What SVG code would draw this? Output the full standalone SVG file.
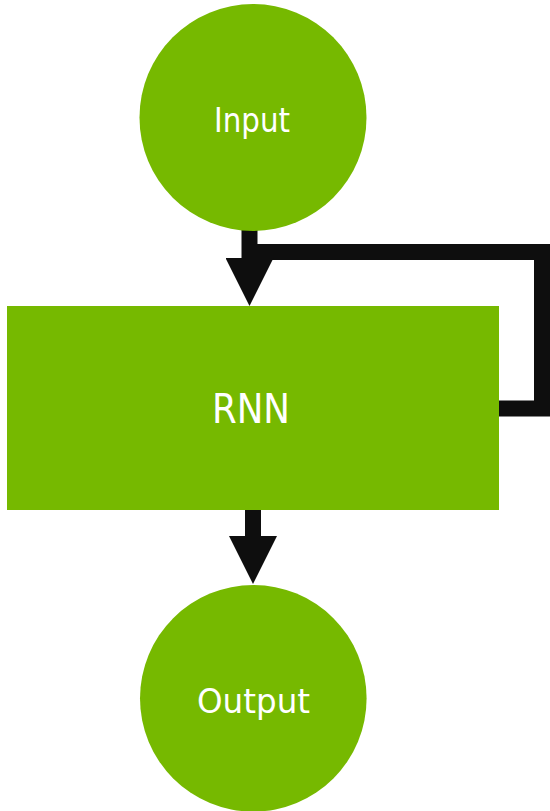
<svg xmlns="http://www.w3.org/2000/svg" width="550" height="811" viewBox="0 0 550 811">
  <style>
    .node { fill: #76b900; }
    .label { fill: #ffffff; font-family: "DejaVu Sans Condensed", "DejaVu Sans", sans-serif; text-anchor: middle; }
    .conn { fill: none; stroke: #0e0e0e; stroke-width: 16; stroke-linejoin: miter; stroke-linecap: butt; }
  </style>
  <defs>
    <marker id="arrow" markerUnits="userSpaceOnUse" viewBox="0 0 48 48" markerWidth="48" markerHeight="48" refX="0" refY="24" orient="auto">
      <path d="M0,0 L48,24 L0,48 Z" fill="#0e0e0e"/>
    </marker>
  </defs>
  <rect width="550" height="811" fill="#ffffff"/>
  <g id="connectors">
    <path class="conn" d="M499,408.5 H542 V252 H250"/>
    <path class="conn" d="M249.5,230 V258" marker-end="url(#arrow)"/>
    <path class="conn" d="M253,509 V536" marker-end="url(#arrow)"/>
  </g>
  <g id="node-input">
    <circle class="node" cx="253" cy="117.5" r="113.5"/>
    <text class="label" x="252" y="132" font-size="33" textLength="76" lengthAdjust="spacingAndGlyphs">Input</text>
  </g>
  <g id="node-rnn">
    <rect class="node" x="7" y="306" width="492" height="204"/>
    <text class="label" x="251" y="423" font-size="40" textLength="78" lengthAdjust="spacingAndGlyphs">RNN</text>
  </g>
  <g id="node-output">
    <circle class="node" cx="253.3" cy="698.3" r="113.3"/>
    <text class="label" x="253.5" y="713" font-size="33" textLength="113" lengthAdjust="spacingAndGlyphs">Output</text>
  </g>
</svg>
